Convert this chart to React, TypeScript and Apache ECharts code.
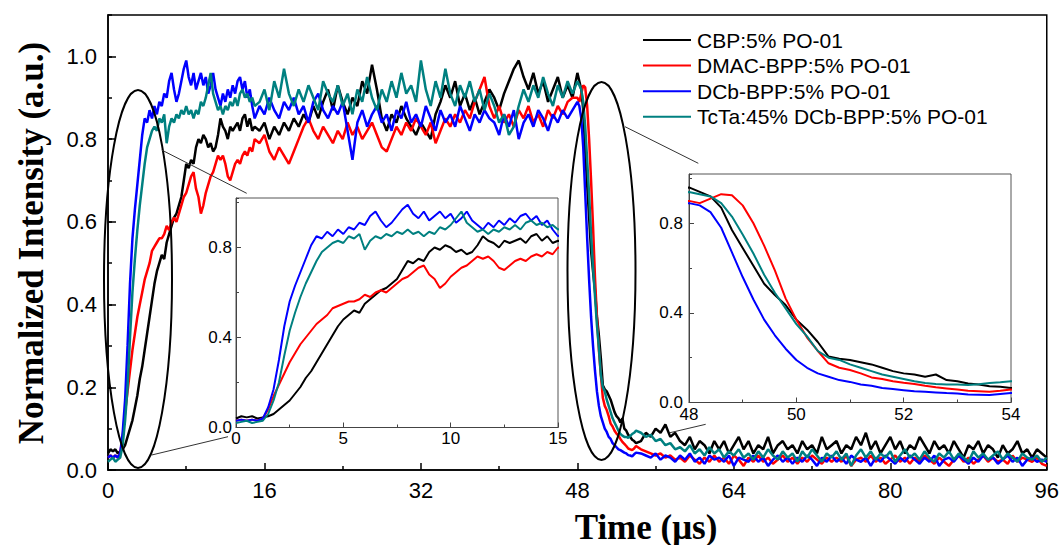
import React, { useEffect, useRef } from "react";
import * as echarts from "echarts";

// Sampling grid of the traces (µs): [start, end, step]
const timeSegments: [number, number, number][] = [
  [0, 15, 0.25],
  [15.5, 47.5, 0.5],
  [48, 54, 0.2],
  [54.5, 96, 0.5],
];

const seriesNames = [
  "CBP:5% PO-01",
  "DMAC-BPP:5% PO-01",
  "DCb-BPP:5% PO-01",
  "TcTa:45% DCb-BPP:5% PO-01",
];
const seriesColors = ["#000000", "#ff0000", "#0000ff", "#008080"];

const xTicksMain = [0, 96, 16];
const yTicksMain = [0, 1.1, 0.2];

// CBP:5% PO-01 (black)
const cbp = [
  // rise 0..15 step 0.25
  0.04, 0.05, 0.045, 0.05,
  0.04, 0.045, 0.05, 0.06,
  0.08, 0.10, 0.12, 0.15,
  0.18, 0.22, 0.25, 0.29,
  0.33, 0.37, 0.41, 0.45,
  0.48, 0.50, 0.52, 0.51,
  0.55, 0.57, 0.59, 0.61,
  0.62, 0.64, 0.66, 0.70,
  0.74, 0.73, 0.75, 0.74,
  0.78, 0.80, 0.79, 0.81,
  0.80, 0.78, 0.79, 0.77,
  0.78, 0.81, 0.85, 0.83,
  0.82, 0.80, 0.83, 0.82,
  0.83, 0.84, 0.82, 0.85,
  0.86, 0.83, 0.85, 0.82,
  0.83,
  // plateau 15.5..47.5 step 0.5
  0.82, 0.84, 0.80, 0.83, 0.81, 0.84, 0.82, 0.85,
  0.83, 0.86, 0.84, 0.88, 0.85, 0.89, 0.92, 0.87,
  0.93, 0.89, 0.86, 0.90, 0.88, 0.94, 0.91, 0.98,
  0.92, 0.85, 0.82, 0.86, 0.84, 0.88, 0.85, 0.83,
  0.81, 0.84, 0.82, 0.80, 0.86, 0.89, 0.93, 0.90,
  0.94, 0.88, 0.91, 0.87, 0.90, 0.86, 0.89, 0.92,
  0.90, 0.87, 0.91, 0.94, 0.97, 0.99, 0.95, 0.92,
  0.96, 0.91, 0.94, 0.89, 0.92, 0.95, 0.90, 0.93,
  0.90,
  // decay 48..54 step 0.2
  0.96, 0.94, 0.92, 0.87, 0.77,
  0.69, 0.61, 0.53, 0.48, 0.435,
  0.37, 0.325, 0.27, 0.205, 0.195,
  0.19, 0.18, 0.17, 0.155, 0.14,
  0.13, 0.125, 0.115, 0.125, 0.10,
  0.095, 0.085, 0.08, 0.073, 0.07,
  0.065,
  // tail 54.5..96 step 0.5
  0.07, 0.09, 0.08, 0.10, 0.09, 0.11, 0.08, 0.09,
  0.07, 0.06, 0.08, 0.05, 0.07, 0.06, 0.04, 0.07,
  0.05, 0.07, 0.04, 0.06, 0.08, 0.05, 0.07, 0.04,
  0.06, 0.05, 0.08, 0.04, 0.06, 0.07, 0.05, 0.06,
  0.04, 0.07, 0.05, 0.06, 0.04, 0.08, 0.05, 0.06,
  0.07, 0.04, 0.06, 0.05, 0.08, 0.06, 0.09, 0.05,
  0.07, 0.04, 0.06, 0.08, 0.05, 0.07, 0.04, 0.06,
  0.05, 0.08, 0.06, 0.04, 0.07, 0.05, 0.06, 0.04,
  0.07, 0.05, 0.03, 0.06, 0.05, 0.07, 0.04, 0.06,
  0.05, 0.03, 0.06, 0.04, 0.05, 0.07, 0.04, 0.05,
  0.03, 0.05, 0.04, 0.03,
];

// DMAC-BPP:5% PO-01 (red)
const dmac = [
  0.03, 0.035, 0.03, 0.035,
  0.03, 0.04, 0.08, 0.14,
  0.19, 0.24, 0.29, 0.33,
  0.37, 0.40, 0.43, 0.46,
  0.48, 0.50, 0.53, 0.54,
  0.55, 0.56, 0.56, 0.57,
  0.59, 0.58, 0.60, 0.61,
  0.60, 0.62, 0.64, 0.66,
  0.67, 0.69, 0.71, 0.72,
  0.68, 0.66, 0.62, 0.64,
  0.67, 0.69, 0.71, 0.72,
  0.74, 0.76, 0.75, 0.76,
  0.74, 0.71, 0.70, 0.72,
  0.74, 0.75, 0.74, 0.76,
  0.77, 0.76, 0.78, 0.77,
  0.80,
  0.79, 0.81, 0.77, 0.75, 0.78, 0.76, 0.74, 0.77,
  0.80, 0.83, 0.85, 0.82, 0.80, 0.83, 0.81, 0.79,
  0.82, 0.80, 0.84, 0.81, 0.83, 0.80, 0.82, 0.84,
  0.81, 0.78, 0.77, 0.80, 0.83, 0.81, 0.84, 0.82,
  0.85, 0.83, 0.81, 0.84, 0.79, 0.82, 0.85, 0.83,
  0.86, 0.84, 0.87, 0.85, 0.89, 0.92, 0.95, 0.88,
  0.85, 0.88, 0.84, 0.86, 0.83, 0.87, 0.85, 0.88,
  0.84, 0.86, 0.83, 0.87, 0.85, 0.88, 0.86, 0.89,
  0.90,
  0.90, 0.89, 0.91, 0.93, 0.925,
  0.88, 0.80, 0.70, 0.59, 0.465,
  0.37, 0.29, 0.23, 0.175, 0.155,
  0.145, 0.13, 0.112, 0.105, 0.095,
  0.088, 0.083, 0.075, 0.068, 0.063,
  0.058, 0.052, 0.05, 0.048, 0.052,
  0.058,
  0.05, 0.045, 0.04, 0.035, 0.04, 0.03, 0.035, 0.025,
  0.03, 0.02, 0.035, 0.025, 0.015, 0.03, 0.02, 0.035,
  0.02, 0.03, 0.015, 0.035, 0.025, 0.01, 0.03, 0.02,
  0.035, 0.02, 0.03, 0.015, 0.025, 0.035, 0.02, 0.03,
  0.015, 0.03, 0.02, 0.035, 0.025, 0.015, 0.03, 0.02,
  0.03, 0.02, 0.035, 0.01, 0.025, 0.03, 0.02, 0.035,
  0.02, 0.03, 0.015, 0.025, 0.035, 0.02, 0.03, 0.015,
  0.03, 0.02, 0.035, 0.025, 0.015, 0.03, 0.02, 0.01,
  0.025, 0.035, 0.02, 0.03, 0.015, 0.025, 0.035, 0.02,
  0.03, 0.02, 0.025, 0.015, 0.035, 0.02, 0.03, 0.025,
  0.02, 0.03, 0.015, 0.01,
];

// DCb-BPP:5% PO-01 (blue)
const dcb = [
  0.03, 0.035, 0.03, 0.035,
  0.03, 0.04, 0.09, 0.17,
  0.30, 0.45, 0.56, 0.63,
  0.69, 0.75, 0.81, 0.85,
  0.84, 0.87, 0.85, 0.88,
  0.86, 0.89, 0.88, 0.91,
  0.90, 0.94, 0.96, 0.92,
  0.89, 0.91, 0.94, 0.97,
  0.99, 0.95, 0.93, 0.96,
  0.92, 0.94, 0.96, 0.93,
  0.95, 0.91, 0.93, 0.96,
  0.92, 0.90, 0.88, 0.91,
  0.89, 0.92, 0.90, 0.93,
  0.91, 0.94, 0.95, 0.92,
  0.94, 0.90, 0.92, 0.88,
  0.85,
  0.88, 0.86, 0.90, 0.87, 0.85, 0.89, 0.87, 0.90,
  0.86, 0.88, 0.84, 0.89, 0.91, 0.87, 0.85, 0.88,
  0.86, 0.89, 0.82, 0.75, 0.84, 0.87, 0.83, 0.86,
  0.88, 0.84, 0.86, 0.82, 0.87, 0.85, 0.89, 0.84,
  0.86, 0.83, 0.88, 0.85, 0.82, 0.87, 0.84, 0.86,
  0.83, 0.88, 0.85, 0.82, 0.86, 0.84, 0.87, 0.85,
  0.84, 0.81, 0.86, 0.83, 0.87, 0.80, 0.84, 0.86,
  0.83, 0.87, 0.85, 0.82, 0.86, 0.84, 0.87, 0.85,
  0.87,
  0.89, 0.88, 0.85, 0.78, 0.67,
  0.56, 0.46, 0.37, 0.30, 0.24,
  0.19, 0.155, 0.13, 0.115, 0.10,
  0.092, 0.08, 0.075, 0.065, 0.06,
  0.055, 0.05, 0.048, 0.045, 0.042,
  0.04, 0.036, 0.035, 0.033, 0.038,
  0.042,
  0.04, 0.035, 0.03, 0.04, 0.025, 0.035, 0.03, 0.02,
  0.035, 0.025, 0.04, 0.02, 0.03, 0.015, 0.035, 0.025,
  0.03, 0.02, 0.035, 0.01, 0.03, 0.025, 0.02, 0.035,
  0.02, 0.03, 0.01, 0.025, 0.035, 0.02, 0.03, 0.015,
  0.03, 0.02, 0.035, 0.025, 0.01, 0.03, 0.02, 0.035,
  0.02, 0.03, 0.015, 0.035, 0.025, 0.02, 0.03, 0.01,
  0.03, 0.02, 0.035, 0.025, 0.015, 0.03, 0.02, 0.035,
  0.025, 0.015, 0.03, 0.02, 0.035, 0.01, 0.025, 0.03,
  0.02, 0.035, 0.025, 0.015, 0.03, 0.02, 0.035, 0.025,
  0.03, 0.015, 0.025, 0.035, 0.02, 0.03, 0.01, 0.025,
  0.03, 0.02, 0.025, 0.02,
];

// TcTa:45% DCb-BPP:5% PO-01 (teal)
const tcta = [
  0.02, 0.025, 0.03, 0.02,
  0.025, 0.03, 0.06, 0.12,
  0.20, 0.32, 0.43, 0.51,
  0.58, 0.64, 0.69, 0.74,
  0.78, 0.80, 0.82, 0.83,
  0.82, 0.85, 0.84, 0.86,
  0.79, 0.83, 0.85, 0.84,
  0.86, 0.85, 0.87, 0.86,
  0.88, 0.86, 0.87, 0.85,
  0.87, 0.86, 0.89, 0.88,
  0.90, 0.93, 0.96, 0.91,
  0.89, 0.87, 0.88, 0.86,
  0.88, 0.87, 0.89, 0.88,
  0.90, 0.88, 0.91, 0.92,
  0.90, 0.91, 0.89, 0.90,
  0.88,
  0.89, 0.92, 0.87, 0.94, 0.90, 0.97, 0.91, 0.88,
  0.92, 0.89, 0.93, 0.90, 0.87, 0.94, 0.91, 0.89,
  0.93, 0.88, 0.91, 0.86, 0.92, 0.89, 0.95, 0.90,
  0.87, 0.92, 0.89, 0.94, 0.90, 0.96, 0.91, 0.93,
  0.89, 0.99, 0.92, 0.88, 0.94, 0.90, 0.97, 0.91,
  0.88, 0.93, 0.90, 0.94, 0.89, 0.92, 0.87, 0.91,
  0.88, 0.84, 0.86, 0.81, 0.83, 0.88, 0.92, 0.89,
  0.93, 0.90, 0.95, 0.91, 0.88, 0.93, 0.90, 0.94,
  0.91,
  0.94, 0.93, 0.92, 0.89, 0.83,
  0.75, 0.665, 0.57, 0.49, 0.42,
  0.35, 0.295, 0.23, 0.20, 0.19,
  0.17, 0.155, 0.14, 0.125, 0.115,
  0.105, 0.095, 0.087, 0.083, 0.08,
  0.08, 0.078, 0.082, 0.087, 0.09,
  0.095,
  0.09, 0.08, 0.085, 0.07, 0.075, 0.06, 0.065, 0.05,
  0.055, 0.045, 0.06, 0.04, 0.05, 0.035, 0.055, 0.04,
  0.05, 0.03, 0.045, 0.035, 0.05, 0.03, 0.04, 0.025,
  0.045, 0.03, 0.05, 0.035, 0.025, 0.045, 0.03, 0.04,
  0.02, 0.045, 0.03, 0.05, 0.035, 0.02, 0.04, 0.03,
  0.045, 0.025, 0.04, 0.01, 0.035, 0.05, 0.03, 0.045,
  0.025, 0.04, 0.03, 0.045, 0.02, 0.035, 0.05, 0.03,
  0.04, 0.025, 0.045, 0.03, 0.02, 0.04, 0.03, 0.045,
  0.025, 0.04, 0.03, 0.02, 0.045, 0.03, 0.04, 0.025,
  0.035, 0.045, 0.025, 0.04, 0.03, 0.02, 0.04, 0.03,
  0.025, 0.035, 0.02, 0.03,
];

const seriesValues = [cbp, dmac, dcb, tcta];

const SANS = "'Liberation Sans', Arial, sans-serif";
const SERIF = "'Liberation Serif', 'Times New Roman', serif";

function buildTimes(): number[] {
  const out: number[] = [];
  for (const [a, b, s] of timeSegments) {
    const n = Math.round((b - a) / s);
    for (let i = 0; i <= n; i++) out.push(Math.round((a + i * s) * 100) / 100);
  }
  return out;
}

function xAxisDef(gridIndex: number, min: number, max: number, interval: number, inset: boolean) {
  const c = inset ? "#444" : "#000";
  const w = inset ? 1 : 1.5;
  return {
    type: "value",
    gridIndex,
    min,
    max,
    interval,
    z: inset ? 11 : 1,
    axisLine: { show: true, onZero: false, lineStyle: { color: c, width: w } },
    axisTick: { show: true, inside: true, length: inset ? 5 : 7, lineStyle: { color: c, width: w } },
    minorTick: { show: true, splitNumber: 2, length: inset ? 3 : 4, lineStyle: { color: c, width: w } },
    splitLine: { show: false },
    minorSplitLine: { show: false },
    axisLabel: {
      show: true,
      color: "#000",
      fontFamily: SANS,
      fontSize: inset ? 17 : 22,
      margin: inset ? (gridIndex === 1 ? 2 : 3) : 9,
    },
  };
}

function yAxisDefs(gridIndex: number, max: number, major: number, minor: number, inset: boolean) {
  const c = inset ? "#444" : "#000";
  const w = inset ? 1 : 1.5;
  return [
    {
      type: "value",
      gridIndex,
      position: "left",
      min: 0,
      max,
      interval: major,
      z: inset ? 11 : 1,
      axisLine: { show: true, onZero: false, lineStyle: { color: c, width: w } },
      axisTick: { show: true, inside: true, length: inset ? 5 : 8, lineStyle: { color: c, width: w } },
      splitLine: { show: false },
      axisLabel: {
        show: true,
        color: "#000",
        fontFamily: SANS,
        fontSize: inset ? 17 : 22,
        margin: inset ? (gridIndex === 1 ? 4 : 6) : 11,
        showMaxLabel: false,
        formatter: (v: number) => v.toFixed(1),
      },
    },
    {
      type: "value",
      gridIndex,
      position: "left",
      min: 0,
      max,
      interval: minor,
      z: inset ? 11 : 1,
      axisLine: { show: false },
      axisTick: { show: true, inside: true, length: inset ? 3 : 4, lineStyle: { color: c, width: w } },
      splitLine: { show: false },
      axisLabel: { show: false },
    },
  ];
}

export default function App() {
  const ref = useRef<HTMLDivElement>(null);

  useEffect(() => {
    if (!ref.current) return;
    const chart = echarts.init(ref.current, undefined, { renderer: "svg" });
    const times = buildTimes();

    const series: any[] = [];
    const gridYAxis = [0, 2, 4];
    [0, 1, 2].forEach((g) => {
      seriesValues.forEach((vals, i) => {
        series.push({
          type: "line",
          name: seriesNames[i],
          xAxisIndex: g,
          yAxisIndex: gridYAxis[g],
          data: vals.map((v, k) => [times[k], v]),
          showSymbol: false,
          symbol: "none",
          clip: true,
          silent: true,
          z: g === 0 ? 2 : 12,
          lineStyle: { color: seriesColors[i], width: g === 0 ? 2.5 : 2 },
          itemStyle: { color: seriesColors[i] },
          emphasis: { disabled: true },
        });
      });
    });

    const graphics: any[] = [];
    // zoom ellipses and connector lines
    graphics.push(
      { type: "ellipse", z: 20, shape: { cx: 138, cy: 279, rx: 34, ry: 189 }, style: { fill: "none", stroke: "#000", lineWidth: 2 } },
      { type: "ellipse", z: 20, shape: { cx: 601.5, cy: 271, rx: 34, ry: 189 }, style: { fill: "none", stroke: "#000", lineWidth: 2 } },
      { type: "line", z: 20, shape: { x1: 161.7, y1: 150, x2: 246.7, y2: 193.3 }, style: { stroke: "#333", lineWidth: 1 } },
      { type: "line", z: 20, shape: { x1: 151.7, y1: 455, x2: 228, y2: 436.7 }, style: { stroke: "#333", lineWidth: 1 } },
      { type: "line", z: 20, shape: { x1: 625, y1: 126.7, x2: 698.3, y2: 163.3 }, style: { stroke: "#333", lineWidth: 1 } },
      { type: "line", z: 20, shape: { x1: 670, y1: 432.7, x2: 705.7, y2: 424.3 }, style: { stroke: "#333", lineWidth: 1 } }
    );
    // legend
    seriesNames.forEach((name, i) => {
      const y = 40 + i * 25.6;
      graphics.push(
        { type: "line", z: 20, shape: { x1: 643, y1: y, x2: 691, y2: y }, style: { stroke: seriesColors[i], lineWidth: 2 } },
        {
          type: "text",
          z: 20,
          x: 697,
          y,
          style: {
            text: name,
            fill: "#000",
            font: `21px ${SANS}`,
            align: "left",
            verticalAlign: "middle",
            textAlign: "left",
            textVerticalAlign: "middle",
          },
        }
      );
    });
    // axis titles
    graphics.push(
      {
        type: "text",
        z: 20,
        x: 31,
        y: 243,
        rotation: Math.PI / 2,
        style: {
          text: "Normalized Intensity (a.u.)",
          fill: "#000",
          font: `bold 35px ${SERIF}`,
          align: "center",
          verticalAlign: "middle",
          textAlign: "center",
          textVerticalAlign: "middle",
        },
      },
      {
        type: "text",
        z: 20,
        x: 646,
        y: 527,
        style: {
          text: "Time (\u03bcs)",
          fill: "#000",
          font: `bold 35px ${SERIF}`,
          align: "center",
          verticalAlign: "middle",
          textAlign: "center",
          textVerticalAlign: "middle",
        },
      }
    );

    const option: any = {
      animation: false,
      backgroundColor: "#ffffff",
      grid: [
        { left: 108, top: 15, width: 939, height: 455, show: true, borderColor: "#000", borderWidth: 1.5, backgroundColor: "transparent", z: 0 },
        { left: 236, top: 198, width: 322, height: 229.5, show: true, borderColor: "#555", borderWidth: 1, backgroundColor: "#ffffff", z: 10 },
        { left: 689, top: 174, width: 322, height: 228.5, show: true, borderColor: "#555", borderWidth: 1, backgroundColor: "#ffffff", z: 10 },
      ],
      xAxis: [
        xAxisDef(0, xTicksMain[0], xTicksMain[1], xTicksMain[2], false),
        xAxisDef(1, 0, 15, 5, true),
        xAxisDef(2, 48, 54, 2, true),
      ],
      yAxis: [
        ...yAxisDefs(0, yTicksMain[1], yTicksMain[2], 0.1, false),
        ...yAxisDefs(1, 1.02, 0.4, 0.2, true),
        ...yAxisDefs(2, 1.02, 0.4, 0.2, true),
      ],
      series,
      graphic: { elements: graphics },
    };

    chart.setOption(option);
    return () => chart.dispose();
  }, []);

  return (
    <div
      ref={ref}
      style={{ position: "absolute", left: 0, top: 0, width: 1062, height: 545, background: "#fff" }}
    />
  );
}
